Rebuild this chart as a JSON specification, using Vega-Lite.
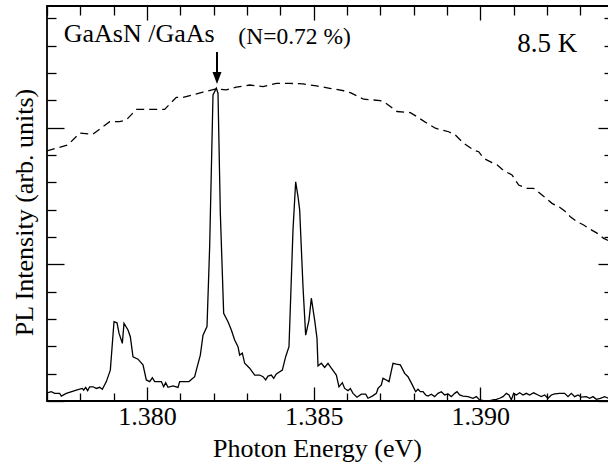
{
  "$schema": "https://vega.github.io/schema/vega-lite/v6.json",
  "width": 562,
  "height": 395,
  "autosize": {"type": "none"},
  "padding": {"left": 47, "top": 6, "right": 0, "bottom": 64},
  "background": "white",
  "datasets": {
    "solid": [
      {"e":1.37700,"i":0.30},{"e":1.37713,"i":0.34},{"e":1.37723,"i":0.28},{"e":1.37738,"i":0.28},{"e":1.37743,"i":0.18},{"e":1.37758,"i":0.28},{"e":1.37788,"i":0.40},{"e":1.37798,"i":0.43},{"e":1.37806,"i":0.46},{"e":1.37810,"i":0.40},{"e":1.37816,"i":0.50},{"e":1.37822,"i":0.38},{"e":1.37828,"i":0.52},{"e":1.37838,"i":0.52},{"e":1.37848,"i":0.46},{"e":1.37858,"i":0.50},{"e":1.37866,"i":0.43},{"e":1.37878,"i":0.71},{"e":1.37890,"i":1.13},{"e":1.37901,"i":2.90},{"e":1.37910,"i":2.86},{"e":1.37916,"i":2.48},{"e":1.37926,"i":2.11},{"e":1.37931,"i":2.84},{"e":1.37943,"i":2.60},{"e":1.37950,"i":2.35},{"e":1.37958,"i":1.62},{"e":1.37973,"i":1.53},{"e":1.37988,"i":1.32},{"e":1.37998,"i":0.77},{"e":1.38008,"i":0.71},{"e":1.38016,"i":0.85},{"e":1.38023,"i":0.71},{"e":1.38043,"i":0.71},{"e":1.38050,"i":0.52},{"e":1.38056,"i":0.67},{"e":1.38063,"i":0.50},{"e":1.38078,"i":0.55},{"e":1.38093,"i":0.50},{"e":1.38098,"i":0.71},{"e":1.38126,"i":0.71},{"e":1.38143,"i":0.89},{"e":1.38148,"i":1.13},{"e":1.38160,"i":1.68},{"e":1.38168,"i":2.41},{"e":1.38180,"i":2.72},{"e":1.38188,"i":5.65},{"e":1.38198,"i":11.20},{"e":1.38208,"i":11.44},{"e":1.38213,"i":11.26},{"e":1.38220,"i":6.88},{"e":1.38230,"i":3.21},{"e":1.38243,"i":2.90},{"e":1.38253,"i":2.60},{"e":1.38263,"i":2.23},{"e":1.38273,"i":1.99},{"e":1.38278,"i":1.68},{"e":1.38286,"i":1.75},{"e":1.38293,"i":1.38},{"e":1.38308,"i":1.20},{"e":1.38323,"i":0.95},{"e":1.38338,"i":0.95},{"e":1.38348,"i":0.89},{"e":1.38356,"i":0.77},{"e":1.38363,"i":0.91},{"e":1.38373,"i":0.95},{"e":1.38380,"i":0.83},{"e":1.38388,"i":0.99},{"e":1.38406,"i":1.13},{"e":1.38416,"i":1.62},{"e":1.38426,"i":1.99},{"e":1.38438,"i":6.26},{"e":1.38446,"i":8.02},{"e":1.38453,"i":7.48},{"e":1.38458,"i":6.99},{"e":1.38468,"i":4.18},{"e":1.38476,"i":2.41},{"e":1.38486,"i":2.96},{"e":1.38493,"i":3.76},{"e":1.38503,"i":2.96},{"e":1.38510,"i":2.29},{"e":1.38513,"i":1.28},{"e":1.38523,"i":1.38},{"e":1.38533,"i":1.23},{"e":1.38543,"i":1.38},{"e":1.38553,"i":1.20},{"e":1.38568,"i":0.95},{"e":1.38576,"i":0.52},{"e":1.38586,"i":0.67},{"e":1.38593,"i":0.46},{"e":1.38603,"i":0.38},{"e":1.38610,"i":0.46},{"e":1.38618,"i":0.28},{"e":1.38630,"i":0.14},{"e":1.38643,"i":0.25},{"e":1.38656,"i":0.25},{"e":1.38663,"i":0.10},{"e":1.38676,"i":0.18},{"e":1.38688,"i":0.28},{"e":1.38693,"i":0.46},{"e":1.38703,"i":0.59},{"e":1.38708,"i":0.83},{"e":1.38718,"i":0.77},{"e":1.38726,"i":0.71},{"e":1.38738,"i":1.38},{"e":1.38748,"i":1.35},{"e":1.38760,"i":1.32},{"e":1.38773,"i":1.01},{"e":1.38783,"i":0.89},{"e":1.38796,"i":0.59},{"e":1.38806,"i":0.34},{"e":1.38813,"i":0.43},{"e":1.38820,"i":0.34},{"e":1.38828,"i":0.34},{"e":1.38836,"i":0.22},{"e":1.38843,"i":0.18},{"e":1.38853,"i":0.25},{"e":1.38863,"i":0.16},{"e":1.38873,"i":0.28},{"e":1.38883,"i":0.34},{"e":1.38893,"i":0.22},{"e":1.38903,"i":0.26},{"e":1.38913,"i":0.16},{"e":1.38923,"i":0.28},{"e":1.38930,"i":0.34},{"e":1.38938,"i":0.22},{"e":1.38948,"i":0.18},{"e":1.38963,"i":0.16},{"e":1.38978,"i":0.10},{"e":1.38988,"i":0.16},{"e":1.38998,"i":0.04},{"e":1.39010,"i":0.01},{"e":1.39026,"i":0.00},{"e":1.39038,"i":0.04},{"e":1.39048,"i":0.06},{"e":1.39058,"i":0.10},{"e":1.39068,"i":0.16},{"e":1.39078,"i":0.28},{"e":1.39086,"i":0.22},{"e":1.39093,"i":0.04},{"e":1.39100,"i":0.28},{"e":1.39108,"i":0.22},{"e":1.39118,"i":0.30},{"e":1.39128,"i":0.22},{"e":1.39138,"i":0.28},{"e":1.39148,"i":0.22},{"e":1.39160,"i":0.30},{"e":1.39173,"i":0.22},{"e":1.39183,"i":0.16},{"e":1.39193,"i":0.22},{"e":1.39203,"i":0.10},{"e":1.39213,"i":0.22},{"e":1.39223,"i":0.26},{"e":1.39238,"i":0.28},{"e":1.39253,"i":0.28},{"e":1.39263,"i":0.16},{"e":1.39273,"i":0.28},{"e":1.39283,"i":0.16},{"e":1.39293,"i":0.22},{"e":1.39303,"i":0.14},{"e":1.39318,"i":0.16},{"e":1.39328,"i":0.10},{"e":1.39338,"i":0.16},{"e":1.39348,"i":0.06},{"e":1.39360,"i":0.10},{"e":1.39373,"i":0.16},{"e":1.39384,"i":0.10}
    ],
    "dashed": [
      {"e":1.37700,"i":9.15},{"e":1.37728,"i":9.25},{"e":1.37763,"i":9.37},{"e":1.37798,"i":9.80},{"e":1.37838,"i":9.76},{"e":1.37888,"i":10.22},{"e":1.37918,"i":10.22},{"e":1.37938,"i":10.28},{"e":1.37968,"i":10.67},{"e":1.37998,"i":10.67},{"e":1.38028,"i":10.67},{"e":1.38053,"i":10.67},{"e":1.38088,"i":11.11},{"e":1.38108,"i":11.11},{"e":1.38138,"i":11.20},{"e":1.38168,"i":11.30},{"e":1.38208,"i":11.42},{"e":1.38238,"i":11.38},{"e":1.38268,"i":11.48},{"e":1.38308,"i":11.56},{"e":1.38348,"i":11.50},{"e":1.38388,"i":11.62},{"e":1.38428,"i":11.62},{"e":1.38468,"i":11.60},{"e":1.38508,"i":11.53},{"e":1.38548,"i":11.44},{"e":1.38590,"i":11.35},{"e":1.38610,"i":11.28},{"e":1.38630,"i":11.16},{"e":1.38650,"i":11.04},{"e":1.38700,"i":10.99},{"e":1.38715,"i":10.91},{"e":1.38750,"i":10.59},{"e":1.38790,"i":10.55},{"e":1.38810,"i":10.40},{"e":1.38840,"i":10.16},{"e":1.38865,"i":9.98},{"e":1.38905,"i":9.85},{"e":1.38925,"i":9.73},{"e":1.38950,"i":9.43},{"e":1.38980,"i":9.18},{"e":1.38995,"i":9.12},{"e":1.39010,"i":8.88},{"e":1.39035,"i":8.72},{"e":1.39050,"i":8.64},{"e":1.39070,"i":8.43},{"e":1.39095,"i":8.27},{"e":1.39115,"i":7.90},{"e":1.39140,"i":7.78},{"e":1.39160,"i":7.78},{"e":1.39185,"i":7.54},{"e":1.39215,"i":7.23},{"e":1.39240,"i":7.07},{"e":1.39255,"i":6.93},{"e":1.39270,"i":6.74},{"e":1.39290,"i":6.56},{"e":1.39310,"i":6.44},{"e":1.39330,"i":6.28},{"e":1.39350,"i":6.14},{"e":1.39370,"i":5.95},{"e":1.39384,"i":5.87}
    ],
    "labels": [
      {"text":"GaAsN /GaAs","e":1.3775,"i":13.15,"kind":"a"},
      {"text":"(N=0.72 %)","e":1.38274,"i":13.06,"kind":"b"},
      {"text":"8.5 K","e":1.39111,"i":12.78,"kind":"c"}
    ],
    "arrow": [
      {"e":1.3821,"i":12.77,"i2":11.82}
    ]
  },
  "resolve": {
    "scale": {"x": "shared", "y": "shared"},
    "axis": {"x": "independent", "y": "independent"}
  },
  "layer": [
    {
      "data": {"name": "solid"},
      "mark": {"type": "line", "color": "black", "strokeWidth": 1.3, "clip": true},
      "encoding": {
        "x": {"field": "e", "type": "quantitative",
          "scale": {"domain": [1.377, 1.39386], "nice": false, "zero": false},
          "axis": {"orient": "bottom", "values": [1.38, 1.385, 1.39], "format": ".3f", "tickSize": -14,
            "labelFontSize": 26, "labelPadding": 37, "labelBaseline": "alphabetic", "labelFlush": false, "labelOverlap": false,
            "title": "Photon Energy (eV)", "titleFontSize": 26, "titleX": 270, "titleY": 55, "titleBaseline": "alphabetic", "titleAlign": "center"}},
        "y": {"field": "i", "type": "quantitative",
          "scale": {"domain": [0, 14.45], "nice": false, "zero": false},
          "axis": {"orient": "left", "values": [0, 5, 10], "tickSize": -17, "labels": false,
            "title": "PL Intensity (arb. units)", "titleFontSize": 26, "titleX": -15, "titleY": 206, "titleBaseline": "alphabetic", "titleAlign": "center", "titleAngle": 270}}
      }
    },
    {
      "data": {"name": "dashed"},
      "mark": {"type": "line", "color": "black", "strokeWidth": 1.3, "strokeDash": [8, 5], "clip": true},
      "encoding": {
        "x": {"field": "e", "type": "quantitative",
          "axis": {"orient": "bottom", "values": [1.377,1.378,1.379,1.381,1.382,1.383,1.384,1.386,1.387,1.388,1.389,1.391,1.392,1.393], "tickSize": -8, "labels": false, "title": null}},
        "y": {"field": "i", "type": "quantitative",
          "axis": {"orient": "left", "values": [1,2,3,4,6,7,8,9,11,12,13,14], "tickSize": -9, "labels": false, "title": null}}
      }
    },
    {
      "data": {"name": "arrow"},
      "mark": {"type": "rule", "color": "black", "strokeWidth": 2},
      "encoding": {
        "x": {"field": "e", "type": "quantitative",
          "axis": {"orient": "top", "values": [1.38, 1.385, 1.39], "tickSize": -14, "labels": false, "title": null}},
        "y": {"field": "i", "type": "quantitative",
          "axis": {"orient": "right", "values": [0, 5, 10], "tickSize": -11, "labels": false, "title": null}},
        "y2": {"field": "i2"}
      }
    },
    {
      "data": {"name": "arrow"},
      "mark": {"type": "point", "shape": "M -0.75 -1 L 0.75 -1 L 0 1 Z", "size": 144, "filled": true, "color": "black", "opacity": 1},
      "encoding": {
        "x": {"field": "e", "type": "quantitative",
          "axis": {"orient": "top", "values": [1.377,1.378,1.379,1.381,1.382,1.383,1.384,1.386,1.387,1.388,1.389,1.391,1.392,1.393], "tickSize": -9, "labels": false, "title": null}},
        "y": {"field": "i2", "type": "quantitative",
          "axis": {"orient": "right", "values": [1,2,3,4,6,7,8,9,11,12,13,14], "tickSize": -5, "labels": false, "title": null}}
      }
    },
    {
      "data": {"name": "labels"},
      "transform": [{"filter": "datum.kind == 'a'"}],
      "mark": {"type": "text", "font": "Liberation Serif", "fontSize": 26, "align": "left", "baseline": "alphabetic", "color": "black"},
      "encoding": {
        "x": {"field": "e", "type": "quantitative", "axis": null},
        "y": {"field": "i", "type": "quantitative", "axis": null},
        "text": {"field": "text"}
      }
    },
    {
      "data": {"name": "labels"},
      "transform": [{"filter": "datum.kind == 'b'"}],
      "mark": {"type": "text", "font": "Liberation Serif", "fontSize": 23.5, "align": "left", "baseline": "alphabetic", "color": "black"},
      "encoding": {
        "x": {"field": "e", "type": "quantitative", "axis": null},
        "y": {"field": "i", "type": "quantitative", "axis": null},
        "text": {"field": "text"}
      }
    },
    {
      "data": {"name": "labels"},
      "transform": [{"filter": "datum.kind == 'c'"}],
      "mark": {"type": "text", "font": "Liberation Serif", "fontSize": 27, "align": "left", "baseline": "alphabetic", "color": "black"},
      "encoding": {
        "x": {"field": "e", "type": "quantitative", "axis": null},
        "y": {"field": "i", "type": "quantitative", "axis": null},
        "text": {"field": "text"}
      }
    }
  ],
  "config": {
    "view": {"stroke": "black", "strokeWidth": 1.8},
    "axis": {"domain": false, "grid": false, "tickColor": "black", "tickWidth": 1.3,
      "labelFont": "Liberation Serif", "titleFont": "Liberation Serif", "labelColor": "black", "titleColor": "black", "titleFontWeight": "normal"}
  }
}
